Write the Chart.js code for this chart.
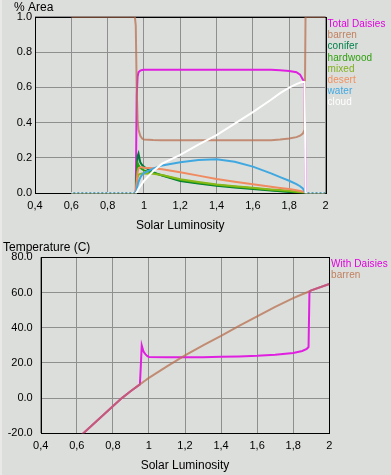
<!DOCTYPE html>
<html>
<head>
<title>Daisyworld</title>
<script src="https://cdn.jsdelivr.net/npm/chart.js"></script>
<style>
  html, body { margin: 0; padding: 0; background: #dcdedb; }
  body { width: 391px; height: 475px; position: relative; overflow: hidden; }
  #edge { position: absolute; left: 0; top: 0; width: 2px; height: 475px; background: #e9eae8; }
  #areaBox { position: absolute; left: 0; top: 0; width: 391px; height: 237px; }
  #tempBox { position: absolute; left: 0; top: 237px; width: 391px; height: 238px; }
</style>
</head>
<body>
<div id="edge"></div>
<div id="areaBox"><canvas id="areaChart"></canvas></div>
<div id="tempBox"><canvas id="tempChart"></canvas></div>
<script>
// x ticks (shared by both charts)
var xTickValues = [0.4, 0.6, 0.8, 1.0, 1.2, 1.4, 1.6, 1.8, 2.0];
var xTickLabels = ['0,4', '0,6', '0,8', '1', '1,2', '1,4', '1,6', '1,8', '2'];

// top chart: % area
var areaTickValues = [0, 0.2, 0.4, 0.6, 0.8, 1.0];
var areaTickLabels = ['0.0', '0.2', '0.4', '0.6', '0.8', '1.0'];
var lum = [0.6, 0.7, 0.8, 0.9, 0.95, 0.955, 0.96, 0.965, 0.97, 0.98, 0.99, 1.0, 1.05, 1.1, 1.2, 1.3, 1.4, 1.5, 1.6, 1.7, 1.75, 1.8, 1.84, 1.86, 1.875, 1.885, 1.89, 1.9, 2.0];
var totalDaisies = [0, 0, 0, 0, 0, 0, 0.55, 0.66, 0.685, 0.695, 0.698, 0.7, 0.7, 0.7, 0.7, 0.7, 0.7, 0.7, 0.7, 0.699, 0.697, 0.693, 0.686, 0.672, 0.645, 0.62, 0, 0, 0];
var barren = [1, 1, 1, 1, 1, 0.95, 0.6, 0.42, 0.36, 0.325, 0.31, 0.305, 0.302, 0.301, 0.3, 0.3, 0.3, 0.3, 0.3, 0.301, 0.304, 0.31, 0.318, 0.326, 0.338, 0.36, 1, 1, 1];
var conifer = [0, 0, 0, 0, 0, 0, 0.12, 0.21, 0.225, 0.175, 0.16, 0.15, 0.12, 0.1, 0.07, 0.055, 0.043, 0.033, 0.024, 0.016, 0.012, 0.008, 0.004, 0.002, 0.001, 0, 0, 0, 0];
var hardwood = [0, 0, 0, 0, 0, 0, 0.09, 0.17, 0.16, 0.145, 0.137, 0.13, 0.115, 0.102, 0.075, 0.06, 0.047, 0.037, 0.028, 0.019, 0.015, 0.011, 0.006, 0.004, 0.002, 0, 0, 0, 0];
var mixed = [0, 0, 0, 0, 0, 0, 0.05, 0.09, 0.105, 0.11, 0.112, 0.112, 0.11, 0.104, 0.08, 0.064, 0.05, 0.04, 0.031, 0.022, 0.018, 0.014, 0.009, 0.006, 0.003, 0, 0, 0, 0];
var desert = [0, 0, 0, 0, 0, 0, 0.06, 0.12, 0.14, 0.148, 0.147, 0.145, 0.142, 0.136, 0.119, 0.1, 0.081, 0.066, 0.051, 0.037, 0.03, 0.024, 0.017, 0.013, 0.01, 0.006, 0, 0, 0];
var water = [0, 0, 0, 0, 0, 0, 0.02, 0.045, 0.065, 0.09, 0.105, 0.115, 0.14, 0.158, 0.176, 0.188, 0.193, 0.179, 0.151, 0.113, 0.092, 0.071, 0.052, 0.04, 0.028, 0.012, 0, 0, 0];
var cloud = [0, 0, 0, 0, 0, 0, 0.005, 0.015, 0.025, 0.04, 0.055, 0.07, 0.125, 0.168, 0.217, 0.275, 0.33, 0.395, 0.46, 0.53, 0.567, 0.598, 0.618, 0.627, 0.632, 0.63, 0, 0, 0];

// bottom chart: temperature
var tempTickValues = [-20, 0, 20, 40, 60, 80];
var tempTickLabels = ['-20.0', '0.0', '20.0', '40.0', '60.0', '80.0'];
var lumT = [0.6, 0.65, 0.7, 0.75, 0.8, 0.85, 0.9, 0.95, 0.955, 0.96, 0.97, 0.98, 0.99, 1.0, 1.1, 1.2, 1.3, 1.4, 1.5, 1.6, 1.7, 1.8, 1.85, 1.875, 1.885, 1.89, 1.9, 2.0];
var withDaisies = [-23.4, -18.7, -14, -9.3, -4.6, 0, 4, 7.8, 18, 30, 26.5, 25, 24, 23.4, 23.2, 23.2, 23.2, 23.5, 23.7, 24, 24.6, 25.6, 26.8, 28, 29, 60.6, 61.2, 64.8];
var barrenT = [-23.4, -18.7, -14, -9.3, -4.6, 0, 4, 7.8, 8.2, 8.5, 9.3, 10, 10.8, 11.5, 18, 24.3, 30, 35.3, 41, 46.5, 51.8, 56.8, 59, 60, 60.4, 60.6, 61.2, 64.8];

var FONT = '"Liberation Sans", Arial, sans-serif';

function pts(xs, ys) {
    return xs.map(function (x, i) { return { x: x, y: ys[i] }; });
}

function line(label, xs, ys, color, order) {
    return { label: label, data: pts(xs, ys), borderColor: color, borderWidth: 2,
             pointRadius: 0, fill: false, tension: 0, order: order };
}

// frame, titles and the plain-text legend
var decor = {
    id: 'decor',
    beforeDatasetsDraw: function (chart) {
        var a = chart.chartArea, c = chart.ctx;
        var l = Math.round(a.left), t = Math.round(a.top), r = Math.round(a.right), b = Math.round(a.bottom);
        c.save();
        c.strokeStyle = '#000';
        c.lineWidth = 1;
        c.strokeRect(l + 0.5, t + 0.5, r - l, b - t);
        c.restore();
    },
    afterDraw: function (chart, args, o) {
        var c = chart.ctx, a = chart.chartArea;
        c.save();
        c.fillStyle = '#000';
        c.textBaseline = 'middle';
        c.font = '12px ' + FONT;
        c.textAlign = 'left';
        c.fillText(o.yTitle, o.yTitleX, o.yTitleY);
        c.textAlign = 'center';
        c.fillText(o.xTitle, (a.left + a.right) / 2, o.xTitleY);
        c.textAlign = 'left';
        c.font = '10px ' + FONT;
        c.letterSpacing = '0.1px';
        chart.data.datasets.forEach(function (ds, i) {
            c.fillStyle = o.colors[i];
            c.fillText(ds.label, o.legendX, o.legendY + i * o.legendStep);
        });
        c.restore();
    }
};

function xScale() {
    return {
        type: 'linear', min: 0.4, max: 2,
        afterBuildTicks: function (s) { s.ticks = xTickValues.map(function (v) { return { value: v }; }); },
        ticks: { autoSkip: false, maxRotation: 0, padding: 6, color: '#000', font: { size: 11, family: FONT },
                 callback: function (v, i) { return xTickLabels[i]; } },
        grid: { color: '#8f8f8f', drawTicks: false },
        border: { display: false }
    };
}

function yScale(min, max, values, labels, pad) {
    return {
        min: min, max: max,
        afterBuildTicks: function (s) { s.ticks = values.map(function (v) { return { value: v }; }); },
        ticks: { padding: pad, color: '#000', font: { size: 11, family: FONT },
                 callback: function (v, i) { return labels[i]; } },
        grid: { color: '#8f8f8f', drawTicks: false },
        border: { display: false }
    };
}

var barrenColor = 'rgba(184,112,80,0.75)';

var areaX = xScale();
areaX.afterFit = function (s) { s.height = 43.7; };
var areaY = yScale(0, 1, areaTickValues, areaTickLabels, 3);
areaY.afterFit = function (s) { s.width = 35; };

var cloudSet = line('cloud', lum, cloud, '#ffffff', 1);
cloudSet.segment = { borderDash: function (ctx) {
    return (ctx.p0.parsed.y === 0 && ctx.p1.parsed.y === 0) ? [2, 2] : undefined;
} };

new Chart(document.getElementById('areaChart'), {
    type: 'line',
    data: {
        datasets: [
            line('Total Daisies', lum, totalDaisies, '#e020e0', 8),
            line('barren', lum, barren, barrenColor, 7),
            line('conifer', lum, conifer, '#007a3c', 6),
            line('hardwood', lum, hardwood, '#28a010', 5),
            line('mixed', lum, mixed, '#88b818', 4),
            line('desert', lum, desert, '#f08a60', 3),
            line('water', lum, water, '#40a8e0', 2),
            cloudSet
        ]
    },
    options: {
        responsive: true, maintainAspectRatio: false, animation: false,
        layout: { padding: { top: 16.7, right: 65.5, left: 0, bottom: 0 } },
        scales: { x: areaX, y: areaY },
        plugins: {
            legend: { display: false }, tooltip: { enabled: false },
            decor: { yTitle: '% Area', yTitleX: 14, yTitleY: 8, xTitle: 'Solar Luminosity', xTitleY: 225.5,
                     legendX: 327.5, legendY: 24.5, legendStep: 11.1,
                     colors: ['#e000e0', '#c0805f', '#00804a', '#30a010', '#80b020', '#f09060', '#40a8e0', '#ffffff'] }
        }
    },
    plugins: [decor]
});

var tempX = xScale();
tempX.afterFit = function (s) { s.height = 41.7; };
var tempY = yScale(-20, 80, tempTickValues, tempTickLabels, 8);
tempY.afterFit = function (s) { s.width = 40.7; };

new Chart(document.getElementById('tempChart'), {
    type: 'line',
    data: {
        datasets: [
            line('With Daisies', lumT, withDaisies, '#e020e0', 2),
            line('barren', lumT, barrenT, barrenColor, 1)
        ]
    },
    options: {
        responsive: true, maintainAspectRatio: false, animation: false,
        layout: { padding: { top: 20.3, right: 61.7, left: 0, bottom: 0 } },
        scales: { x: tempX, y: tempY },
        plugins: {
            legend: { display: false }, tooltip: { enabled: false },
            decor: { yTitle: 'Temperature (C)', yTitleX: 3, yTitleY: 10.5, xTitle: 'Solar Luminosity', xTitleY: 228.5,
                     legendX: 331, legendY: 27.3, legendStep: 11.4,
                     colors: ['#e000e0', '#c0805f'] }
        }
    },
    plugins: [decor]
});
</script>
</body>
</html>
